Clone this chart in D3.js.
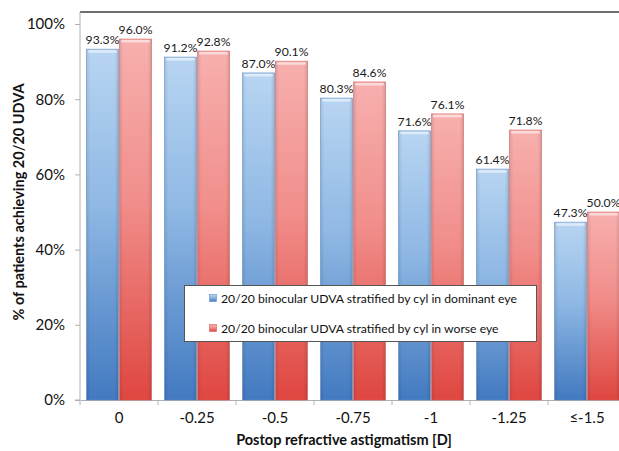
<!DOCTYPE html>
<html>
<head>
<meta charset="utf-8">
<script src="https://cdn.jsdelivr.net/npm/d3@7"></script>
<style>
  html, body { margin: 0; padding: 0; background: #fff; }
  svg { display: block; font-family: Lato, "Open Sans", sans-serif; }
</style>
</head>
<body>
<svg id="chart" width="619" height="451"></svg>
<script>
// Postop refractive astigmatism groups
const categories = ["0", "-0.25", "-0.5", "-0.75", "-1", "-1.25", "≤-1.5"];
const seriesNames = [
  "20/20 binocular UDVA stratified by cyl in dominant eye",
  "20/20 binocular UDVA stratified by cyl in worse eye"
];
const dominantEye = [93.3, 91.2, 87.0, 80.3, 71.6, 61.4, 47.3];
const worseEye = [96.0, 92.8, 90.1, 84.6, 76.1, 71.8, 50.0];
const yTicks = [0, 20, 40, 60, 80, 100];

const series = [
  { key: "dom", name: seriesNames[0], values: dominantEye, top: "#b8d5f2", mid: "#8fb8e4", bottom: "#4279c0", edge: "#5f8fc9" },
  { key: "wor", name: seriesNames[1], values: worseEye, top: "#f7b0ae", mid: "#f18e8b", bottom: "#df4640", edge: "#d6625e" }
];

const svg = d3.select("#chart");
const m = { left: 80, top: 12, bottom: 400 };
const step = 78;
const plotRight = m.left + step * categories.length;

const x0 = d3.scaleBand().domain(categories).range([m.left, plotRight]).padding(0);
const x1 = d3.scaleBand().domain(series.map(s => s.key)).range([6, 72]).padding(0);
const y = d3.scaleLinear().domain([0, 100]).range([m.bottom, 24]);

// gradients per series
const defs = svg.append("defs");
series.forEach(s => {
  const g = defs.append("linearGradient").attr("id", "grad-" + s.key)
    .attr("x1", 0).attr("y1", 0).attr("x2", 0).attr("y2", 1);
  g.append("stop").attr("offset", "0%").attr("stop-color", s.top);
  g.append("stop").attr("offset", "45%").attr("stop-color", s.mid);
  g.append("stop").attr("offset", "100%").attr("stop-color", s.bottom);
  const h = defs.append("linearGradient").attr("id", "side-" + s.key)
    .attr("x1", 0).attr("y1", 0).attr("x2", 1).attr("y2", 0);
  h.append("stop").attr("offset", "0%").attr("stop-color", "#000").attr("stop-opacity", 0.10);
  h.append("stop").attr("offset", "12%").attr("stop-color", "#000").attr("stop-opacity", 0);
  h.append("stop").attr("offset", "88%").attr("stop-color", "#000").attr("stop-opacity", 0);
  h.append("stop").attr("offset", "100%").attr("stop-color", "#000").attr("stop-opacity", 0.12);
});

// frame: top rule
svg.append("line")
  .attr("x1", m.left).attr("x2", 619).attr("y1", m.top).attr("y2", m.top)
  .attr("stroke", "#6e6e6e").attr("stroke-width", 2);

// y axis
const yAxis = svg.append("g").attr("transform", `translate(${m.left},0)`)
  .call(d3.axisLeft(y).tickValues(yTicks).tickFormat(d => d + "%").tickSize(5).tickPadding(10));
yAxis.select(".domain").attr("d", `M-5,${m.bottom}H0V${m.top}`).attr("stroke", "#b0b0b0");
yAxis.selectAll(".tick line").attr("stroke", "#b0b0b0");
yAxis.selectAll(".tick text").attr("font-size", 15).attr("font-family", "Lato, sans-serif").attr("fill", "#111");

// x axis
const xAxis = svg.append("g").attr("transform", `translate(0,${m.bottom})`)
  .call(d3.axisBottom(x0).tickSize(0).tickPadding(12));
xAxis.select(".domain").attr("stroke", "#b0b0b0");
xAxis.selectAll(".tick text").attr("font-size", 15).attr("font-family", "Lato, sans-serif").attr("fill", "#111");
xAxis.selectAll(".sep").data(categories.concat([null])).enter().append("line")
  .attr("class", "sep")
  .attr("x1", (d, i) => m.left + i * step).attr("x2", (d, i) => m.left + i * step)
  .attr("y1", 0).attr("y2", 5).attr("stroke", "#b0b0b0");

// bars
const groups = svg.append("g").selectAll("g").data(categories).enter().append("g")
  .attr("transform", d => `translate(${x0(d)},0)`);

series.forEach(s => {
  const bars = groups.append("g");
  bars.append("rect")
    .attr("x", x1(s.key) + 0.5)
    .attr("y", (d, i) => y(s.values[i]))
    .attr("width", x1.bandwidth() - 1)
    .attr("height", (d, i) => y(0) - y(s.values[i]))
    .attr("fill", `url(#grad-${s.key})`)
    .attr("stroke", s.edge).attr("stroke-width", 0.8).attr("stroke-opacity", 0.7);
  bars.append("rect")
    .attr("x", x1(s.key) + 0.5)
    .attr("y", (d, i) => y(s.values[i]))
    .attr("width", x1.bandwidth() - 1)
    .attr("height", (d, i) => y(0) - y(s.values[i]))
    .attr("fill", `url(#side-${s.key})`);
  // top highlight
  bars.append("rect")
    .attr("x", x1(s.key) + 2)
    .attr("y", (d, i) => y(s.values[i]) + 1)
    .attr("width", x1.bandwidth() - 4)
    .attr("height", 2.5)
    .attr("rx", 1.2)
    .attr("fill", "#fff").attr("opacity", 0.55);
  // value labels
  bars.append("text")
    .attr("x", x1(s.key) + x1.bandwidth() / 2)
    .attr("y", (d, i) => y(s.values[i]) - 5)
    .attr("text-anchor", "middle")
    .attr("font-size", 12.2)
    .attr("fill", "#1a1a1a")
    .text((d, i) => s.values[i].toFixed(1) + "%");
});

// legend
const lg = svg.append("g");
lg.append("rect").attr("x", 184.5).attr("y", 285.5).attr("width", 352).attr("height", 56)
  .attr("fill", "#fff").attr("stroke", "#555").attr("stroke-width", 1);
series.forEach((s, i) => {
  const yy = 298 + i * 30;
  lg.append("rect").attr("x", 209.5).attr("y", yy - 3.5).attr("width", 7).attr("height", 7)
    .attr("fill", `url(#grad-${s.key})`).attr("stroke", s.edge).attr("stroke-width", 0.6);
  lg.append("text").attr("x", 221).attr("y", yy + 4.5)
    .attr("font-size", 12.2).attr("fill", "#111").text(s.name);
});

// axis titles
svg.append("text")
  .attr("x", 344).attr("y", 445)
  .attr("text-anchor", "middle").attr("font-size", 14.5).attr("font-weight", "bold").attr("fill", "#111")
  .text("Postop refractive astigmatism [D]");
svg.append("text")
  .attr("transform", "translate(24,202) rotate(-90)")
  .attr("text-anchor", "middle").attr("font-size", 14.5).attr("font-weight", "bold").attr("fill", "#111")
  .text("% of patients achieving 20/20 UDVA");
</script>
</body>
</html>
